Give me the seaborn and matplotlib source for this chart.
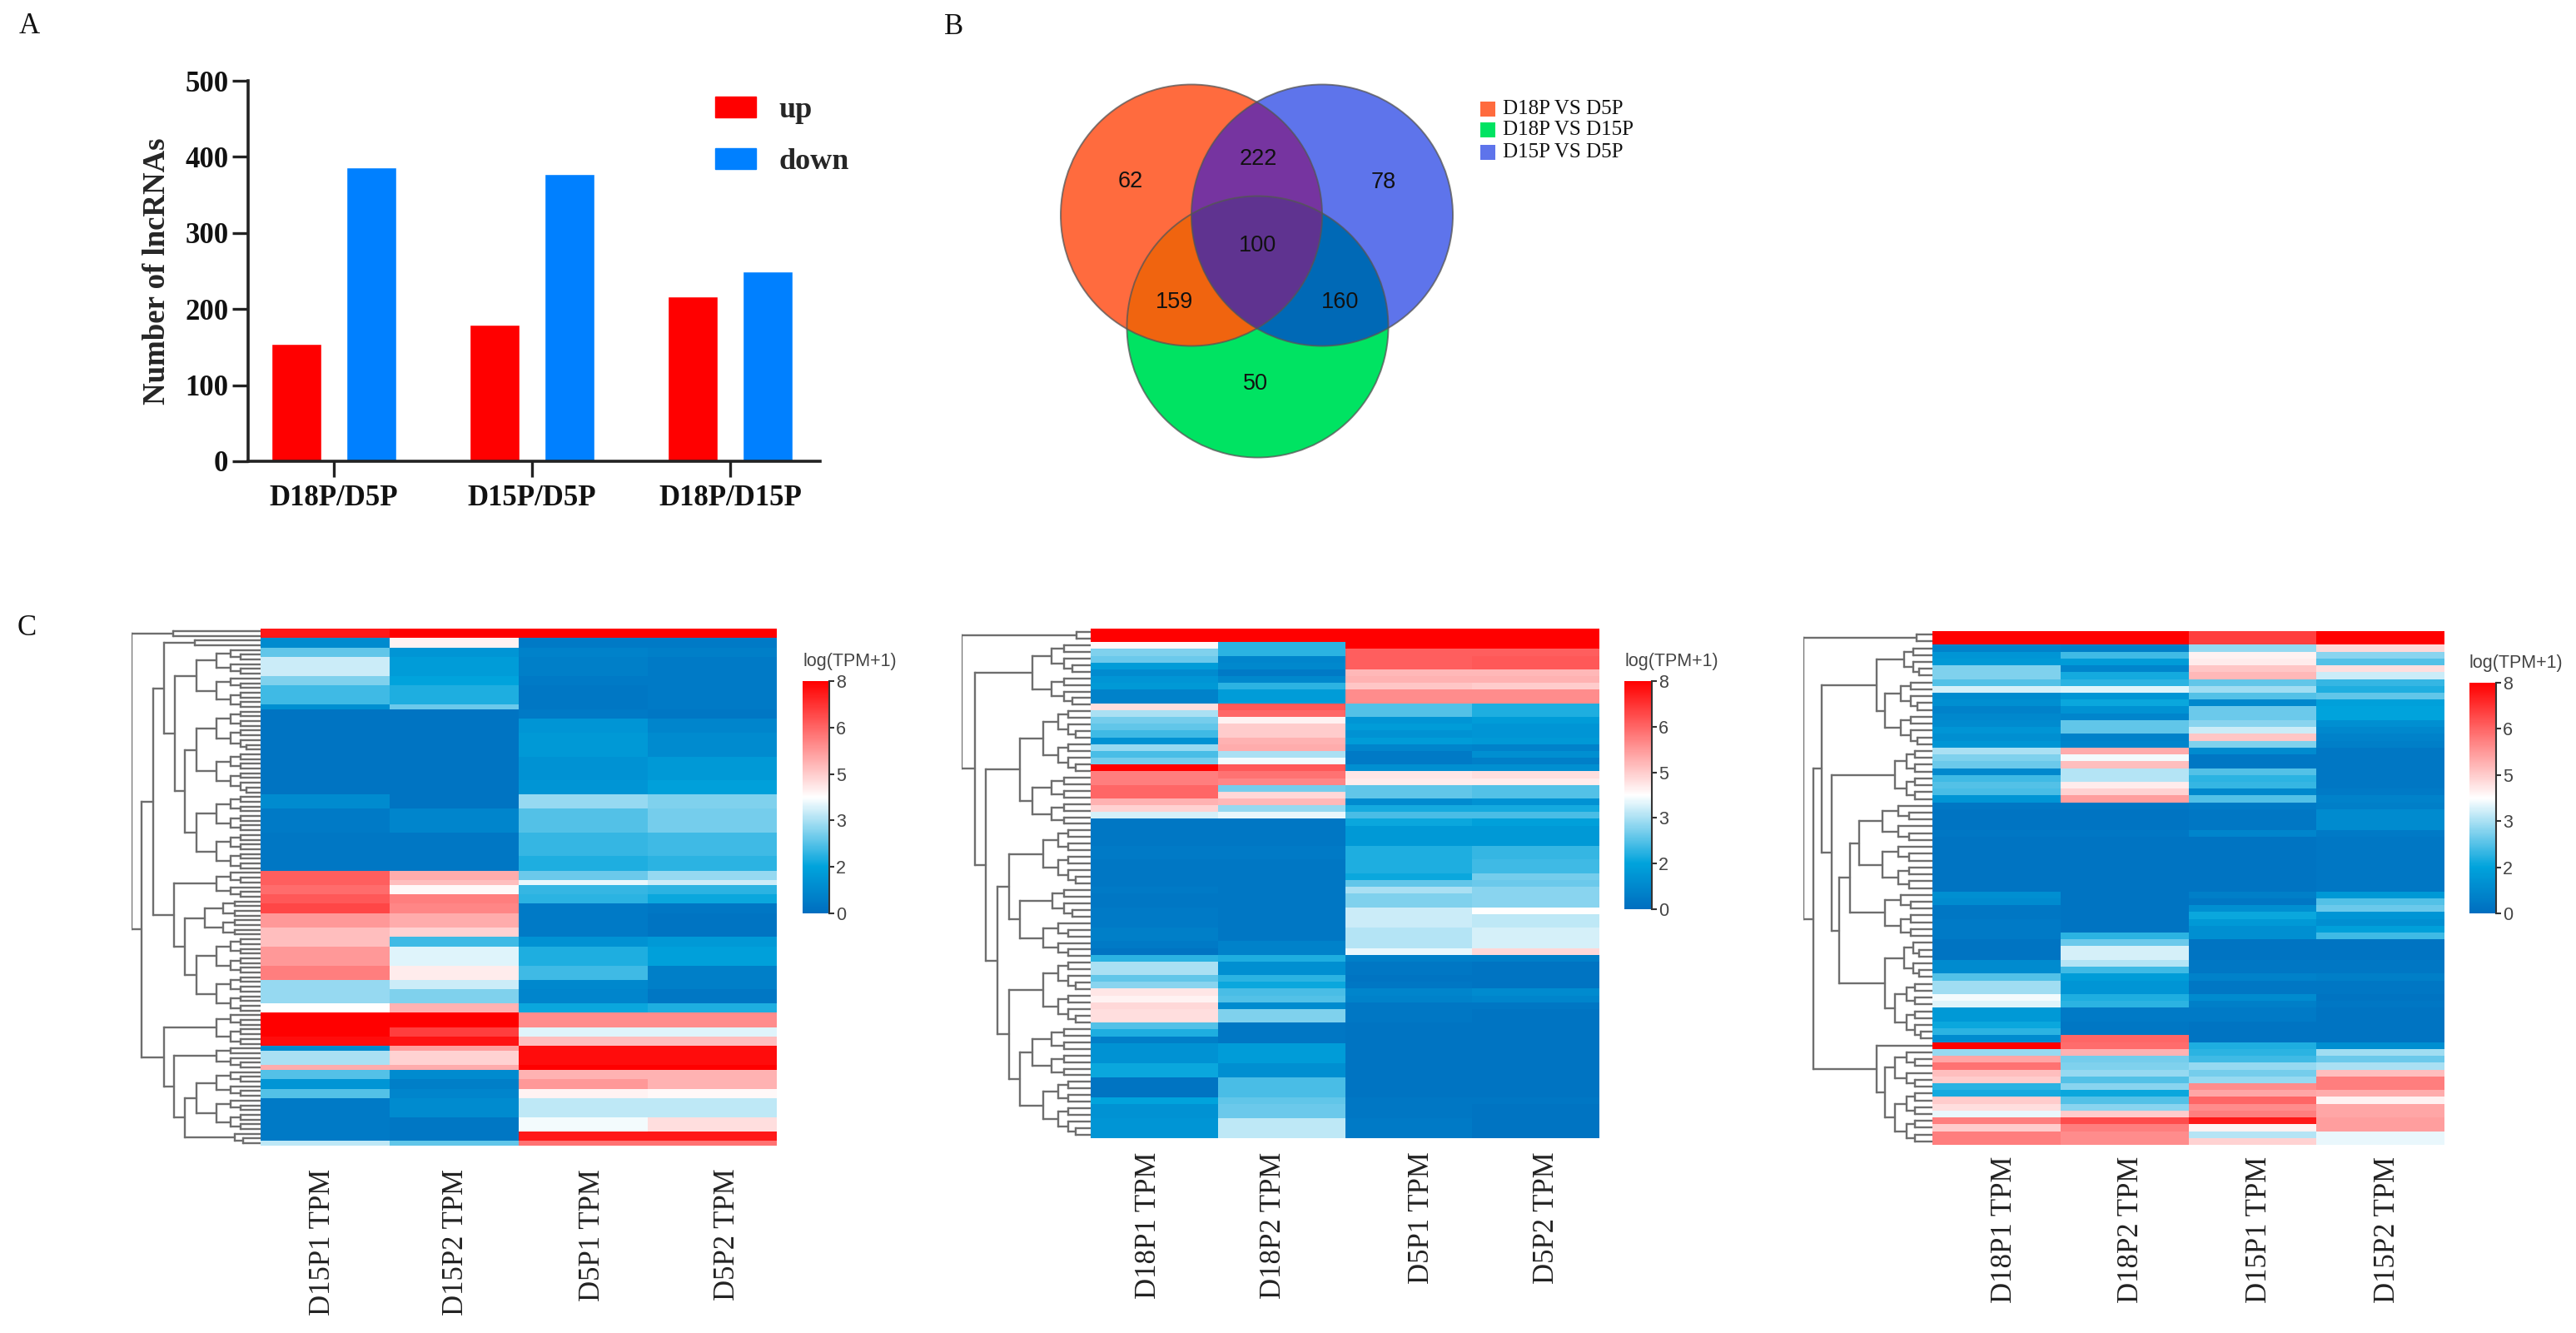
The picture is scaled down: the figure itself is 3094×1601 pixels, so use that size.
import numpy as np
import pandas as pd
import matplotlib
matplotlib.use("Agg")
import matplotlib.pyplot as plt
from matplotlib.colors import LinearSegmentedColormap
from matplotlib.patches import Circle, Polygon, Patch
import seaborn as sns

W, H = 3094, 1601
SERIF = "Liberation Serif"
SANS = "Liberation Sans"

# panel A
COMPARISONS = ["D18P/D5P", "D15P/D5P", "D18P/D15P"]
UP_COUNTS = [154, 179, 217]
DOWN_COUNTS = [386, 377, 249]

# panel B
VENN_NAMES = ["D18P VS D5P", "D18P VS D15P", "D15P VS D5P"]
VENN_COUNTS = [62, 222, 78, 100, 159, 160, 50]

# panel C, left: rows are repeated run times
P1_LABELS = ["D15P1 TPM", "D15P2 TPM", "D5P1 TPM", "D5P2 TPM"]
P1_RUNS = [2, 2, 2, 4, 2, 4, 1, 2, 3, 5, 5, 3, 3, 5, 5, 3, 2, 1, 2, 2, 2, 3, 2, 2, 4, 3, 2, 3, 2, 3, 2, 2, 1, 3, 1, 2, 2, 2, 4, 3, 2, 1]
P1_A = [7.6, .9, 2.5, 3.5, 2.8, 2.2, 1.0, .2, .2, .2, .2, .2, .9, .4, .3, .3, 6.5, 6.5, 6.3, 6.6, 6.9, 5.6, 5, 5, 5.6, 6, 3, 3, 4, 8, 8, 7.8, .9, 3.2, 5.3, 2.4, 1.2, 2.4, .4, .4, .4, 3.4]
P1_B = [8, 4.2, 1.2, 1.4, 1.6, 1.9, 2.6, .2, .2, .2, .2, .2, .2, .7, .3, .3, 5.3, 5, 4.1, 6, 5.9, 5.3, 4.7, 2.2, 3.7, 4.3, 3.5, 2.8, 5.2, 8, 7, 7.7, 5.5, 4.7, 5.3, .9, .5, .7, .9, .3, .3, 2.5]
P1_C = [8, .4, .6, .5, .4, .3, .3, .4, 1.2, 1.3, 1.1, 1.2, 3, 2.4, 2.1, 1.9, 2.6, 3.8, 2.1, 2, .4, .4, .4, 1.1, 1.9, 2.2, .8, .7, 1.7, 5.8, 3.7, 5, 7.8, 7.8, 8, 5.2, 5.6, 4.2, 3.4, 3.9, 7.6, 6.2]
P1_D = [8, .4, .5, .4, .4, .4, .4, .3, .7, .9, 1.3, 1.5, 2.8, 2.7, 2.2, 2, 3, 3.5, 2, 1.7, .3, .2, .2, 1.3, 1.5, .5, .5, .3, 1.9, 5.8, 3.7, 5, 7.8, 7.8, 8, 5.2, 5.2, 4.1, 3.4, 4.5, 7.6, 6.2]
P1_TREE = [0, 2, [.08, [.17, [.25, 2, [.335, [.5, 13], [.41, [.5, 18], [.5, 16]]]], [.33, [.66, 6], [.41, [.57, 8], [.5, 16]]]],
                  [.25, [.66, 7], [.33, [.66, 5], [.41, [.5, 13], [.8, 3]]]]]]

# panel C, middle
P2_LABELS = ["D18P1 TPM", "D18P2 TPM", "D5P1 TPM", "D5P2 TPM"]
P2_RUNS = [2] + [1] * 7 + [2] + [1] * 18 + [3, 2, 2] + [1] * 3 + [2, 1, 2, 2, 1, 1, 1, 2, 1, 1, 1, 1, 1, 2, 1, 1, 1, 3, 2, 3, 1, 2, 3]
P2_A = [8, 4.1, 2.8, 2.6, 1.4, .9, 1.2, 1.3, .6, 4.5, 3.2, 2.7, 2.5, 2.2, 1.1, 3, 2.3, 2.7, 8, 6, 6, 6.4, 6.4, 5.2, 4.7, 3.6, .3, .3, .4, .3, .3, .3, .4, .3, .4, .4, .5, .4, .2, 2, 3.2, 2.5, 2.9, 4.4, 4.2, 4.6, 4.5, 2.4, 1.9, .5, 1.1, 1.7, .2, 1.6, 1.1, 1.2]
P2_B = [8, 2, 2, .7, .8, .4, .8, 2, 1.4, 6.6, 6.4, 4.2, 4.8, 4.8, 5.2, 5.3, 3.2, 3.9, 6.6, 6.2, 5.9, 2.7, 4.6, 5.1, 3, 3.8, .3, .3, .4, .3, .3, .3, .3, .3, .3, .3, .3, .6, .6, 1.9, 1, 2, 1.7, 2.3, 2.4, .9, 2.8, .3, .3, .3, 1.4, 1, 2.3, 2.5, 2.6, 3.4]
P2_C = [8, 8, 6.5, 6.5, 6.5, 5.1, 5.2, 4.9, 5.8, 2.4, 2.4, 1.2, 1.4, 1.1, 1.4, .7, .4, .4, 1, 4.4, 4.3, 2.5, 2.5, .9, 1.8, 2.3, 1.7, 1.3, 1.9, 1.9, 1.7, 2.5, 3.2, 2.8, 3.5, 3.5, 3.3, 3.3, 3.8, .5, .3, .2, .3, .7, .6, .3, .3, .2, .2, .2, .2, .2, .2, .3, .3, .4]
P2_D = [8, 8, 6.5, 6.6, 6.6, 5.1, 5.2, 4.8, 5.8, 1.9, 1.9, 1.4, 1.2, 1.2, 1.3, .6, 1, .5, 1, 4.5, 4.3, 2.4, 2.4, 1.1, 1.8, 2.3, 1.5, 1.3, 2.1, 2.2, 2.7, 2.6, 2.9, 2.9, 4, 3.4, 3.6, 3.6, 4.6, .5, .2, .2, .2, .9, .7, .3, .2, .2, .2, .2, .2, .2, .2, .3, .2, .2]
P2_TREE = [0, [.89, 2], [.1, [.55, 10], [.19, [.45, [.63, 10], [.55, 8]],
                                         [.28, [.37, [.63, 9], [.45, [.7, 5], [.63, 6]]],
                                          [.37, [.63, 10], [.45, [.55, 8], [.63, 9]]]]]]]

# panel C, right
P3_LABELS = ["D18P1 TPM", "D18P2 TPM", "D15P1 TPM", "D15P2 TPM"]
P3_RUNS = [2] + [1] * 24 + [3, 1, 8] + [1] * 8 + [2, 1, 1, 1, 2, 1, 1, 2, 1, 1, 1] + [1] * 15
P3_A = [8, .6, 1.2, 1.3, 2.8, 2.8, 2.4, 3.6, .9, 1, .6, .8, .9, 1.2, 1, 1.2, 3.2, 2.8, 2.6, .8, 2.2, 2.4, 2.3, 1.2, .3, .2, .3, .2, 1, .9, .3, .3, .4, .4, .4, .2, .2, .9, .9, 2.4, 3.1, 3.9, 3.7, 1.3, 1.7, 2, .9, 8, 3, 5.4, 6.2, 5, 4.8, 2, 1.8, 4.8, 4.5, 3.8, 6, 4.8, 6, 6]
P3_B = [8, .5, 2.2, 1.4, .7, 1.8, 2, 3.7, 1.2, 1.7, 1.1, .7, 2.5, 2.5, .6, .7, 5.3, 3.9, 5, 3.3, 3.3, 4.3, 4.7, 5.5, .3, .2, .3, .2, .2, .2, .2, .2, .2, .2, 2, 2.6, 3.6, 3.3, 2.2, 1.4, 1.2, 1.9, 2, .4, .3, .3, 6.4, 6.3, 5.2, 2.7, 2.8, 3, 2.4, 2.9, 1.7, 2.4, 2.9, 4.8, 6.8, 6, 5.8, 5.8]
P3_C = [7, 3, 4.2, 4.3, 4.9, 5.1, 2.5, 3.1, 2.4, .8, 2.6, 2.6, 2.9, 3.5, 4.9, 2.8, .9, .3, .3, 2.4, 2, 2.1, .8, 2.4, .4, .3, .7, .2, .5, .3, 1, 1.7, 1.3, 1, 1, .2, .2, .3, .3, .6, .3, .9, .5, .4, .2, .2, .2, 1.9, 2, 2.2, 3, 2.7, 3, 5.8, 5.4, 6.4, 5.8, 6, 7.6, 4.2, 3.3, 4.7]
P3_D = [8, 4.6, 2.9, 2.4, 4.5, 3.5, 2.1, 1.9, 2.5, 1.5, 1.6, 1.6, 1, .8, .6, .5, .3, .3, .3, .3, .3, .3, .4, .6, .5, .9, .4, .3, 1.3, 2.4, 2.6, 1.2, 1, 1.5, 2.2, .2, .2, .3, .3, .5, .3, .2, .3, .2, .2, .2, .2, 1, 3.1, 2.6, 3.2, 5, 6, 6, 5.3, 4.2, 5.4, 5.4, 5.5, 5.5, 3.8, 3.8]
P3_TREE = [0, [.88, 2], [.075, [.145, [.57, [.78, 5], [.635, 10]],
                                [.22, [.71, 8], [.28, [.36, [.43, 13], [.635, 7]], [.635, [.78, 6], [.71, 9]]]]],
                         [.57, 1, [.635, [.71, 6], [.71, 8]]]]]

CBAR_TICKS = [0, 1.6, 3.2, 4.8, 6.4, 8]
CBAR_LABELS = ["0", "2", "3", "5", "6", "8"]

tpm_cmap = LinearSegmentedColormap.from_list(
    "tpm", [(0, "#006EBF"), (.2, "#00A3DC"), (.5, "#FFFFFF"), (1, "#FF0000")])


def px_axes(fig, x0, y0, x1, y1):
    return fig.add_axes([x0 / W, 1 - y1 / H, (x1 - x0) / W, (y1 - y0) / H])


def next_h(h):
    return h + (1 - h) * .32


def draw_tree(ax, node, start, parent_h, colour):
    # returns (y centre, rows used) for a subtree
    if isinstance(node, int):
        if node == 1:
            return start + .5, 1
        node = [next_h(parent_h), node // 2, node - node // 2]
    elif len(node) == 2:
        node = [node[0], node[1] // 2, node[1] - node[1] // 2]
    h, left, right = node
    y_a, n_a = draw_tree(ax, left, start, h, colour)
    y_b, n_b = draw_tree(ax, right, start + n_a, h, colour)
    ax.plot([h, h], [y_a, y_b], color=colour, lw=1.7, solid_capstyle="projecting")
    for y, child in ((y_a, left), (y_b, right)):
        if isinstance(child, list):
            end = child[0]
        else:
            end = next_h(h) if child > 1 else 1
        ax.plot([h, end], [y, y], color=colour, lw=1.7)
    return (y_a + y_b) / 2, n_a + n_b


def heat_panel(fig, box, tree_left, cbar_box, cbar_title, labels, label_x, label_pad, runs, cols, tree):
    x0, y0, x1, y1 = box
    ax = px_axes(fig, x0, y0, x1, y1)
    cax = px_axes(fig, *cbar_box)
    df = pd.DataFrame(np.repeat(np.array(cols, dtype=float).T, runs, axis=0), columns=labels)
    sns.heatmap(df, ax=ax, cmap=tpm_cmap, vmin=0, vmax=8, cbar_ax=cax, yticklabels=False)
    ax.set_xticks([(x - x0) / (x1 - x0) * 4 for x in label_x], labels, rotation=90,
                  fontfamily=SERIF, fontsize=25, color="#222222")
    ax.tick_params(axis="x", length=0, pad=label_pad)
    cbar = ax.collections[0].colorbar
    cbar.outline.set_visible(False)
    cax.spines["right"].set_visible(True)
    cax.spines["right"].set_linewidth(1.5)
    cax.spines["right"].set_color("#333333")
    cbar.set_ticks(CBAR_TICKS, labels=CBAR_LABELS)
    cbar.ax.tick_params(length=4, width=1.5, pad=2, labelsize=15.5, labelcolor="#444444", color="#333333")
    for t in cbar.ax.get_yticklabels():
        t.set_fontfamily(SANS)
    fig.text(cbar_title[0] / W, 1 - cbar_title[1] / H, "log(TPM+1)", family=SANS, fontsize=15.5,
             color="#444444", ha="center", va="center")
    tree_ax = px_axes(fig, tree_left, y0, x0, y1)
    total = draw_tree(tree_ax, tree, 0, 0, "#6E6E6E")[1]
    tree_ax.set_xlim(0, 1)
    tree_ax.set_ylim(total, 0)
    tree_ax.axis("off")


sns.set_style("white")
plt.rcParams["font.family"] = [SANS, "DejaVu Sans"]

fig = plt.figure(figsize=(W / 100, H / 100), dpi=100)

# canvas in picture pixels for letters and the venn diagram
canvas = fig.add_axes([0, 0, 1, 1])
canvas.set_xlim(0, W)
canvas.set_ylim(H, 0)
canvas.axis("off")
for letter, x, y in (("A", 35, 31), ("B", 1146, 32), ("C", 32, 754)):
    canvas.text(x, y, letter, family=SERIF, fontsize=25, ha="center", va="center", color="#111111")

# panel A
ax_a = px_axes(fig, 298, 97, 985, 554)
bars = pd.DataFrame({
    "comparison": COMPARISONS * 2,
    "count": UP_COUNTS + DOWN_COUNTS,
    "direction": ["up"] * 3 + ["down"] * 3,
})
sns.barplot(data=bars, x="comparison", y="count", hue="direction", ax=ax_a,
            palette={"up": "#FF0000", "down": "#0080FF"}, width=.752, gap=.33,
            saturation=1, legend=False)
ax_a.set_xlim(-.433, 2.454)
ax_a.set_ylim(0, 500)
ax_a.set_yticks(range(0, 501, 100))
ax_a.set_xlabel("")
ax_a.set_ylabel("Number of lncRNAs", family=SERIF, fontweight="bold", fontsize=26.5, labelpad=12)
ax_a.patch.set_alpha(0)
sns.despine(ax=ax_a)
for side in ("left", "bottom"):
    ax_a.spines[side].set_linewidth(2.6)
    ax_a.spines[side].set_color("#222222")
ax_a.tick_params(length=14, width=2.4, color="#222222", left=True, bottom=True)
ax_a.tick_params(axis="y", pad=3)
ax_a.tick_params(axis="x", pad=6)
for t in ax_a.get_xticklabels() + ax_a.get_yticklabels():
    t.set_fontfamily(SERIF)
    t.set_fontweight("bold")
    t.set_fontsize(25)
    t.set_color("#111111")
ax_a.legend(handles=[Patch(color="#FF0000", label="up"), Patch(color="#0080FF", label="down")],
            frameon=False, loc="upper left", bbox_to_anchor=(.816, .958), borderpad=0, borderaxespad=0,
            handlelength=1.36, handleheight=.66, labelspacing=.8, handletextpad=.78,
            prop={"family": SERIF, "weight": "bold", "size": 26})

# panel B
centres = {"orange": (1431, 258.5), "blue": (1588, 258.5), "green": (1510.5, 392.5)}
radius = 157
colours = {"orange": "#FF6B3E", "green": "#00E362", "blue": "#5E74EB"}


def overlap(names):
    # polygon of the shared area of some circles
    pts = []
    for name in names:
        cx, cy = centres[name]
        ang = np.linspace(0, 2 * np.pi, 1500)
        circle = np.c_[cx + radius * np.cos(ang), cy + radius * np.sin(ang)]
        keep = np.ones(len(circle), bool)
        for other in names:
            if other != name:
                keep &= np.hypot(*(circle - centres[other]).T) <= radius + .01
        pts.append(circle[keep])
    pts = np.vstack(pts)
    mid = pts.mean(axis=0)
    return pts[np.argsort(np.arctan2(*(pts - mid).T[::-1]))]


for name in ("green", "orange", "blue"):
    canvas.add_patch(Circle(centres[name], radius, fc=colours[name], ec="none"))
for names, colour in ((("orange", "blue"), "#7634A0"), (("orange", "green"), "#F0640F"),
                      (("blue", "green"), "#0069B6"), (("orange", "blue", "green"), "#5F3390")):
    canvas.add_patch(Polygon(overlap(names), fc=colour, ec="none"))
for name in centres:
    canvas.add_patch(Circle(centres[name], radius, fc="none", ec="#555555", lw=1.4, alpha=.75))
count_xy = [(1358, 218), (1511, 191), (1662, 219), (1511, 295), (1411, 363), (1610, 363), (1508, 461)]
for n, (x, y) in zip(VENN_COUNTS, count_xy):
    canvas.text(x, y, str(n), family=SANS, fontsize=19.5, ha="center", va="center", color="#111111")
for name, colour, y in zip(VENN_NAMES, ("#FF6B3E", "#00E362", "#5E74EB"), (131, 156, 183)):
    canvas.add_patch(plt.Rectangle((1778, y - 9), 18, 18, fc=colour, ec="none"))
    canvas.text(1805, y, name, family=SERIF, fontsize=18, va="center", color="#111111")

# panel C
heat_panel(fig, (313, 755, 933, 1376), 158, (964, 818, 996, 1097), (1021, 794), P1_LABELS,
           [387, 548, 711, 873], 20, P1_RUNS, [P1_A, P1_B, P1_C, P1_D], P1_TREE)
heat_panel(fig, (1310, 755, 1921, 1367), 1155, (1951, 818, 1984, 1092), (2008, 794), P2_LABELS,
           [1380, 1529, 1708, 1857], 12, P2_RUNS, [P2_A, P2_B, P2_C, P2_D], P2_TREE)
heat_panel(fig, (2321, 758, 2936, 1375), 2166, (2966, 820, 2998, 1097), (3022, 796), P3_LABELS,
           [2407, 2560, 2714, 2868], 10, P3_RUNS, [P3_A, P3_B, P3_C, P3_D], P3_TREE)

fig.savefig("out.png", dpi=100)
plt.close(fig)
